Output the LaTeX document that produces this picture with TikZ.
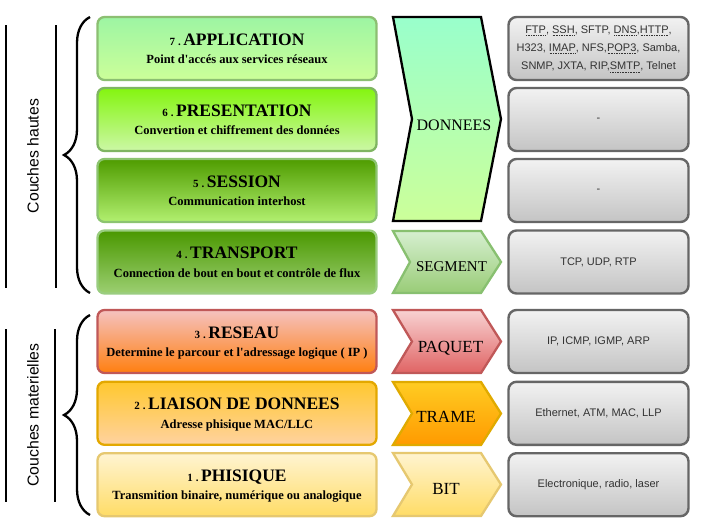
\documentclass[tikz,border=0pt]{standalone}
\usepackage{fontspec}
\setmainfont{Liberation Serif}
\newfontfamily\sansf{Liberation Sans}
\usetikzlibrary{decorations.pathreplacing}

% layer fills (top, bottom) and borders
\definecolor{lSevT}{HTML}{9DF5A3}\definecolor{lSevB}{HTML}{CCFF99}\definecolor{lSevD}{HTML}{8CBF72}
\definecolor{lSixT}{HTML}{84F50F}\definecolor{lSixB}{HTML}{CCF7A6}\definecolor{lSixD}{HTML}{7FB562}
\definecolor{lFivT}{HTML}{4F9C00}\definecolor{lFivB}{HTML}{B2F070}\definecolor{lFivD}{HTML}{8CC470}
\definecolor{lFouT}{HTML}{4A9800}\definecolor{lFouB}{HTML}{9CCF72}\definecolor{lFouD}{HTML}{9ACD80}
\definecolor{lThrT}{HTML}{F5C2C0}\definecolor{lThrB}{HTML}{FF7F10}\definecolor{lThrD}{HTML}{C05858}
\definecolor{lTwoT}{HTML}{FFC82E}\definecolor{lTwoB}{HTML}{FFD2A0}\definecolor{lTwoD}{HTML}{E3A800}
\definecolor{lOneT}{HTML}{FFF4D2}\definecolor{lOneB}{HTML}{FFDC66}\definecolor{lOneD}{HTML}{E6C870}
% protocol data unit arrows
\definecolor{cDonT}{HTML}{99FFCC}\definecolor{cDonB}{HTML}{CCFF99}
\definecolor{cSegT}{HTML}{D6EFD0}\definecolor{cSegB}{HTML}{99CC77}\definecolor{cSegD}{HTML}{88C070}
\definecolor{cPaqT}{HTML}{F8D2D2}\definecolor{cPaqB}{HTML}{E06464}\definecolor{cPaqD}{HTML}{C05858}
\definecolor{cTraT}{HTML}{FFCC22}\definecolor{cTraB}{HTML}{FF9A00}\definecolor{cTraD}{HTML}{E0AA00}
\definecolor{cBitT}{HTML}{FFF4D0}\definecolor{cBitB}{HTML}{FFDC66}\definecolor{cBitD}{HTML}{E6C870}
% protocol boxes
\definecolor{gTop}{HTML}{F2F2F2}\definecolor{gBot}{HTML}{C4C4C4}\definecolor{gBrd}{HTML}{666666}
\definecolor{gTxt}{HTML}{333333}

% one OSI layer: name, centre y, number, title, subtitle, top, bottom, border
\newcommand\osilayer[8]{%
  \node[layerbox, top color=#6, bottom color=#7, draw=#8] (#1) at (237,#2) {};
  \node[ltitle] (#1t) at (237,#2-3.5)
    {{\fontsize{11}{12}\selectfont #3\hspace{3pt}.\hspace{2.5pt}}#4};
  \node[lsub] (#1s) at (237,#2+15) {#5};
}
% one data unit arrow: top, bottom, notch depth, fill top, fill bottom, border
\newcommand\pduarrow[6]{%
  \path[pdu, draw=#6, top color=#4, bottom color=#5]
    (393,#1) -- (481,#1) -- (501,{(#1+#2)/2}) -- (481,#2) -- (393,#2)
    -- ({393+#3},{(#1+#2)/2}) -- cycle;
}
% word with a dotted underline
\newsavebox\splbox
\newcommand\spl[1]{\sbox\splbox{#1}%
  \rlap{\raisebox{-2.2pt}[0pt][0pt]{\hbox to \wd\splbox{%
    \xleaders\hbox to 1.6pt{\hss\rule{0.7pt}{0.6pt}\hss}\hfill}}}%
  \usebox\splbox}
\newcommand\q{\textquotesingle}

\begin{document}
\begin{tikzpicture}[x=1pt,y=-1pt,
  layerbox/.style={line width=2.3pt, rounded corners=7pt, minimum width=279pt,
    minimum height=63pt, inner sep=0pt},
  ltitle/.style={anchor=base, inner sep=0pt, font=\fontsize{17.5}{18}\selectfont\bfseries},
  lsub/.style={anchor=base, inner sep=0pt, font=\fontsize{12.5}{13}\selectfont\bfseries},
  pdu/.style={line width=2.3pt, line join=miter},
  pdulabel/.style={anchor=base, inner sep=0pt, font=\fontsize{17}{18}\selectfont},
  gbox/.style={draw=gBrd, line width=2.4pt, rounded corners=8pt, minimum width=180pt,
    minimum height=63pt, top color=gTop, bottom color=gBot, align=center,
    text=gTxt, font=\sansf\fontsize{11}{18.3}\selectfont},
  bar/.style={line width=2.5pt},
  grp/.style={line width=2.3pt, decorate, decoration={brace, amplitude=26pt}},
  grplabel/.style={anchor=base, rotate=90, inner sep=0pt, font=\sansf\fontsize{15.8}{16}\selectfont}
]
\fill[white] (0,0) rectangle (702,528);
\useasboundingbox (0,0) rectangle (702,528);

% layers
\osilayer{l7}{48.5}{7}{APPLICATION}{Point d\q acc\'es aux services réseaux}{lSevT}{lSevB}{lSevD}
\osilayer{l6}{119.5}{6}{PRESENTATION}{Convertion et chiffrement des données}{lSixT}{lSixB}{lSixD}
\osilayer{l5}{190.5}{5}{SESSION}{Communication interhost}{lFivT}{lFivB}{lFivD}
\osilayer{l4}{262}{4}{TRANSPORT}{Connection de bout en bout et contrôle de flux}{lFouT}{lFouB}{lFouD}
\osilayer{l3}{341.5}{3}{RESEAU}{Determine le parcour et l\q adressage logique ( IP )}{lThrT}{lThrB}{lThrD}
\osilayer{l2}{413.3}{2}{LIAISON DE DONNEES}{Adresse phisique MAC/LLC}{lTwoT}{lTwoB}{lTwoD}
\osilayer{l1}{484.7}{1}{PHISIQUE}{Transmition binaire, numérique ou analogique}{lOneT}{lOneB}{lOneD}

% data units
\pduarrow{17}{221}{19}{cDonT}{cDonB}{black}
\pduarrow{231}{293}{17}{cSegT}{cSegB}{cSegD}
\pduarrow{310}{373}{19}{cPaqT}{cPaqB}{cPaqD}
\pduarrow{382}{445}{19}{cTraT}{cTraB}{cTraD}
\pduarrow{453}{516}{19}{cBitT}{cBitB}{cBitD}
\node[pdulabel, font=\fontsize{16}{17}\selectfont] (donnees) at (454,130.5) {DONNEES};
\node[pdulabel, font=\fontsize{15}{16}\selectfont] (segment) at (451.5,271.5) {SEGMENT};
\node[pdulabel] (paquet) at (450.5,352) {PAQUET};
\node[pdulabel] (trame) at (446,422.5) {TRAME};
\node[pdulabel] (bit) at (446,494) {BIT};

% protocols
\node[gbox] (g7) at (598.5,48.5) {\spl{FTP}, \spl{SSH}, SFTP, \spl{DNS},\spl{HTTP},\\
  H323, \spl{IMAP}, NFS,\spl{POP3}, Samba,\\ SNMP, JXTA, RIP,\spl{SMTP}, Telnet};
\node[gbox] (g6) at (598.5,119.5) {-};
\node[gbox] (g5) at (598.5,190.5) {-};
\node[gbox] (g4) at (598.5,262) {TCP, UDP, RTP};
\node[gbox] (g3) at (598.5,341.5) {IP, ICMP, IGMP, ARP};
\node[gbox] (g2) at (598.5,413.3) {Ethernet, ATM, MAC, LLP};
\node[gbox] (g1) at (598.5,484.7) {Electronique, radio, laser};

% groups
\coordinate (hb1) at (90,293); \coordinate (hb2) at (90,17);
\coordinate (mb1) at (90,515); \coordinate (mb2) at (90,315);
\draw[grp] (hb1) -- (hb2);
\draw[grp] (mb1) -- (mb2);
\coordinate (ha1) at (6,25);  \coordinate (ha2) at (6,288);
\coordinate (hc1) at (56,25); \coordinate (hc2) at (56,288);
\coordinate (ma1) at (6,329);  \coordinate (ma2) at (6,502);
\coordinate (mc1) at (55,329); \coordinate (mc2) at (55,502);
\draw[bar] (ha1) -- (ha2);
\draw[bar] (hc1) -- (hc2);
\draw[bar] (ma1) -- (ma2);
\draw[bar] (mc1) -- (mc2);
\node[grplabel] (haut) at (38.5,156) {Couches hautes};
\node[grplabel] (mat) at (38.5,415) {Couches materielles};
\end{tikzpicture}
\end{document}
